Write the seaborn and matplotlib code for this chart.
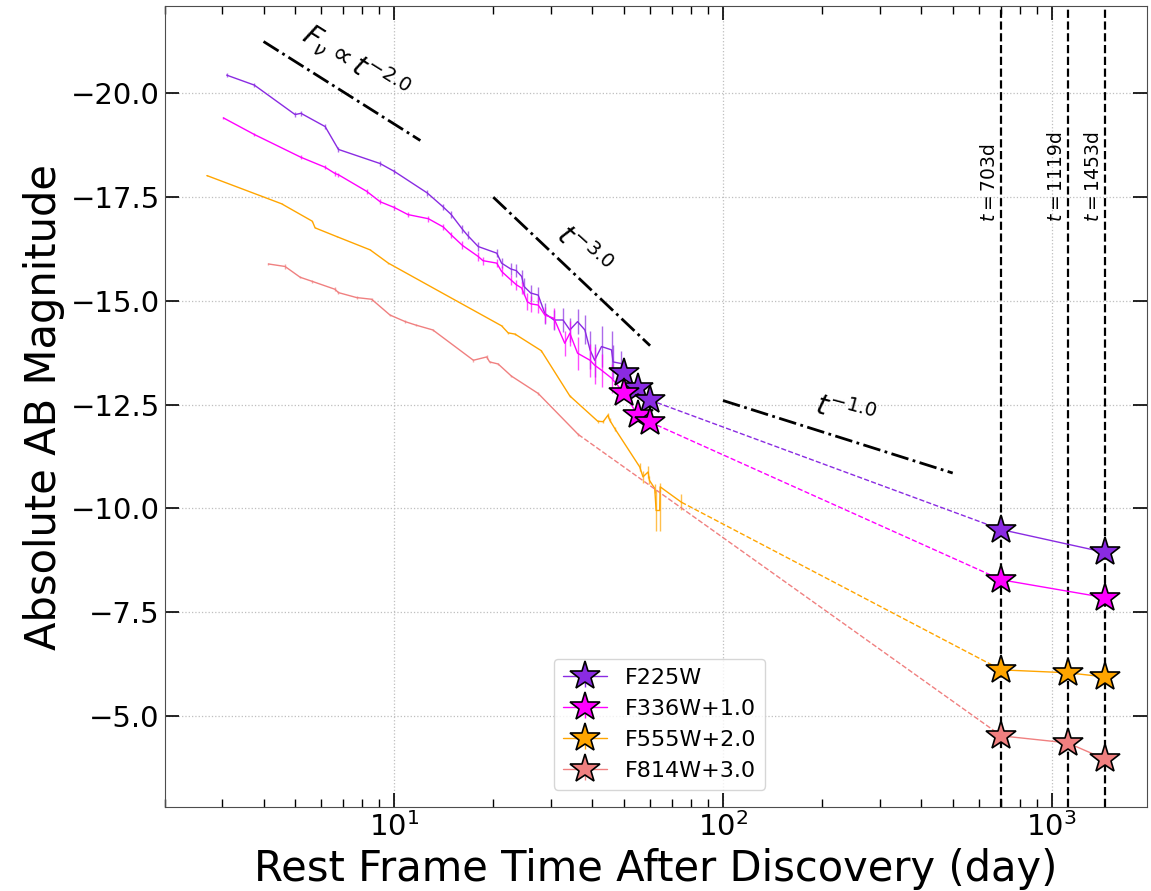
import matplotlib
matplotlib.use("Agg")
import matplotlib.pyplot as plt
import numpy as np
import pandas as pd
import seaborn as sns
from matplotlib.ticker import LogLocator, NullFormatter

# ---- ground-based light curves (rest-frame days, absolute AB mag incl. offsets)
F225W_t = [3.09, 3.75, 4.99, 5.20, 6.16, 6.76, 9.05, 10.0, 12.6, 14.1, 14.9, 16.1, 16.7, 18.0,
           20.5, 21.2, 22.6, 23.5, 24.4, 24.8, 26.0, 27.4, 28.7, 30.6, 32.6, 34.2, 36.1, 38.0,
           39.4, 40.7, 42.7, 45.8, 46.3, 49.1]
F225W_m = [-20.44, -20.20, -19.49, -19.52, -19.20, -18.65, -18.31, -18.12, -17.60, -17.26, -17.08,
           -16.73, -16.58, -16.31, -16.15, -15.91, -15.77, -15.73, -15.59, -15.35, -15.19, -15.14,
           -14.70, -14.54, -14.54, -14.30, -14.50, -14.30, -13.82, -13.57, -13.90, -13.82, -13.53, -13.49]
F225W_e = [0.04, 0.05, 0.05, 0.06, 0.06, 0.06, 0.06, 0.06, 0.07, 0.07, 0.08, 0.10, 0.10, 0.10,
           0.10, 0.12, 0.15, 0.15, 0.15, 0.20, 0.20, 0.20, 0.25, 0.25, 0.30, 0.30, 0.30, 0.35,
           0.45, 0.40, 0.50, 0.45, 0.40, 0.30]

F336W_t = [3.02, 3.75, 5.20, 6.16, 6.60, 6.76, 8.24, 9.05, 10.0, 11.0, 12.7, 14.1, 14.9, 16.1,
           18.0, 18.6, 20.5, 21.2, 22.6, 23.5, 24.4, 25.4, 26.0, 27.4, 28.7, 30.6, 33.0, 34.2,
           36.1, 39.4, 40.7, 42.7, 45.8]
F336W_m = [-19.41, -19.01, -18.46, -18.22, -18.07, -18.04, -17.64, -17.39, -17.25, -17.08, -16.98,
           -16.78, -16.59, -16.34, -16.07, -15.97, -15.91, -15.71, -15.51, -15.39, -15.31, -14.98,
           -14.93, -14.90, -14.66, -14.58, -13.98, -14.22, -13.74, -13.57, -13.45, -13.33, -13.14]
F336W_e = [0.03, 0.04, 0.05, 0.05, 0.05, 0.05, 0.06, 0.06, 0.06, 0.06, 0.07, 0.08, 0.08, 0.10,
           0.10, 0.10, 0.10, 0.12, 0.12, 0.12, 0.15, 0.20, 0.20, 0.20, 0.20, 0.25, 0.30, 0.30,
           0.40, 0.40, 0.45, 0.40, 0.35]

F555W_t = [2.69, 4.54, 5.63, 5.74, 6.68, 8.44, 9.59, 15.3, 21.2, 22.2, 23.3, 28.0, 34.2, 41.6,
           43.2, 44.7, 45.2, 46.9, 55.8, 57.1, 59.2, 59.7, 62.0, 62.6, 64.2, 64.4, 74.7]
F555W_m = [-18.02, -17.34, -16.92, -16.76, -16.55, -16.23, -15.91, -15.02, -14.40, -14.23, -14.20,
           -13.80, -12.71, -12.10, -12.09, -12.25, -12.13, -11.92, -11.00, -10.76, -10.88, -10.68,
           -10.48, -9.95, -9.95, -10.52, -10.15]
F555W_e = [0.01, 0.01, 0.01, 0.01, 0.01, 0.01, 0.01, 0.01, 0.01, 0.02, 0.02, 0.02, 0.02, 0.04,
           0.04, 0.06, 0.05, 0.05, 0.10, 0.15, 0.15, 0.10, 0.10, 0.50, 0.50, 0.10, 0.20]

F814W_t = [4.14, 4.65, 5.17, 5.63, 6.60, 6.76, 7.68, 8.53, 9.70, 10.8, 11.6, 13.1, 17.4, 19.1,
           19.5, 20.7, 22.7, 27.4, 36.3]
F814W_m = [-15.89, -15.83, -15.57, -15.47, -15.28, -15.20, -15.08, -15.04, -14.66, -14.50, -14.42,
           -14.30, -13.57, -13.65, -13.53, -13.48, -13.19, -12.77, -11.78]
F814W_e = [0.03, 0.05, 0.03, 0.04, 0.05, 0.04, 0.03, 0.04, 0.03, 0.03, 0.03, 0.03, 0.03, 0.04,
           0.03, 0.03, 0.03, 0.03, 0.03]

# ---- HST points (stars)
HST_early_t = [50.0, 55.0, 60.0]
F225W_early_m = [-13.26, -12.90, -12.61]
F336W_early_m = [-12.78, -12.25, -12.08]

HST_late_t = [703, 1119, 1453]
F225W_late_m = [-9.49, np.nan, -8.94]
F336W_late_m = [-8.28, np.nan, -7.85]
F555W_late_m = [-6.11, -6.04, -5.94]
F814W_late_m = [-4.52, -4.35, -3.96]

BANDS = ['F225W', 'F336W+1.0', 'F555W+2.0', 'F814W+3.0']
COLORS = ['blueviolet', 'magenta', 'orange', 'lightcoral']

# ---- power-law guides: F_nu ~ t^-alpha
guide_t0 = [4, 20, 100]
guide_t1 = [12, 60, 500]
guide_m0 = [-21.25, -17.5, -12.6]
guide_alpha = [2.0, 3.0, 1.0]
guide_labels = [r'$F_\nu \propto t^{-2.0}$', r'$t^{-3.0}$', r'$t^{-1.0}$']
guide_label_t = [7.6, 37.5, 236]
guide_label_m = [-20.75, -16.2, -12.32]
guide_label_rot = [-32, -42, -15]

epochs = [703, 1119, 1453]

sns.set_style("white", rc={'xtick.bottom': True, 'ytick.left': True,
                           'xtick.top': True, 'ytick.right': True,
                           'text.color': 'black', 'axes.labelcolor': 'black'})
fig, ax = plt.subplots(figsize=(11.51, 8.91), dpi=100)
fig.subplots_adjust(left=0.143, right=0.9965, top=0.993, bottom=0.094)

ground = [(F225W_t, F225W_m, F225W_e), (F336W_t, F336W_m, F336W_e),
          (F555W_t, F555W_m, F555W_e), (F814W_t, F814W_m, F814W_e)]
early = [F225W_early_m, F336W_early_m, None, None]
late = [F225W_late_m, F336W_late_m, F555W_late_m, F814W_late_m]

for (t, m, e), em, lm, c, lab in zip(ground, early, late, COLORS, BANDS):
    t = list(t); m = list(m)
    if em is not None:
        lt = t + HST_early_t
        lmag = m + em
    else:
        lt, lmag = t, m
    df = pd.DataFrame({'t': lt, 'm': lmag})
    sns.lineplot(data=df, x='t', y='m', ax=ax, color=c, lw=1, sort=False, estimator=None)
    ax.errorbar(t, m, yerr=e, fmt='none', ecolor=c, elinewidth=1, alpha=0.7)
    # dashed extrapolation to first late epoch
    lm_arr = np.array(lm)
    lt_arr = np.array(HST_late_t)
    ok = ~np.isnan(lm_arr)
    ax.plot([lt[-1], lt_arr[ok][0]], [lmag[-1], lm_arr[ok][0]], ls='--', color=c, lw=1)
    # late HST points
    ax.errorbar(lt_arr[ok], lm_arr[ok], yerr=0.03, color=c, lw=1, marker='*', ms=22,
                mec='k', mew=1.2, ecolor=c, label=lab, zorder=5)
    if em is not None:
        ax.plot(HST_early_t, em, ls='none', marker='*', ms=22, color=c, mec='k', mew=1.2, zorder=6)

for t0, t1, m0, a in zip(guide_t0, guide_t1, guide_m0, guide_alpha):
    tt = np.array([t0, t1])
    ax.plot(tt, m0 + 2.5 * a * np.log10(tt / t0), color='k', ls='-.', lw=2)
for lab, x, y, r in zip(guide_labels, guide_label_t, guide_label_m, guide_label_rot):
    ax.text(x, y, lab, fontsize=20, rotation=r, ha='center', va='center', rotation_mode='anchor')

for ep in epochs:
    ax.axvline(ep, color='k', ls='--', lw=1.6)
    ax.text(ep * 0.985, -16.9, rf'$t={ep}$d', rotation=90, ha='right', va='bottom', fontsize=13.5)

ax.set_xscale('log')
ax.set_xlim(2, 1950)
ax.set_ylim(-2.8, -22.1)
ax.set_yticks([-20.0, -17.5, -15.0, -12.5, -10.0, -7.5, -5.0])
ax.grid(True, which='major', ls=':', color='0.75', lw=0.9)
ax.xaxis.set_minor_locator(LogLocator(base=10, subs=np.arange(2, 10), numticks=20))
ax.xaxis.set_minor_formatter(NullFormatter())
ax.tick_params(which='major', direction='in', top=True, right=True, bottom=True, left=True,
               length=10, width=1.2, colors='black')
ax.tick_params(which='minor', direction='in', length=6, width=1, bottom=True, top=True,
               colors='black')
ax.tick_params(axis='both', which='major', labelsize=21)
for s in ax.spines.values():
    s.set_color('0.3')
ax.set_xlabel('Rest Frame Time After Discovery (day)', fontsize=30)
ax.set_ylabel('Absolute AB Magnitude', fontsize=30)
ax.legend(loc='lower left', bbox_to_anchor=(0.385, 0.008), fontsize=16)

fig.savefig('out.png', dpi=100)
